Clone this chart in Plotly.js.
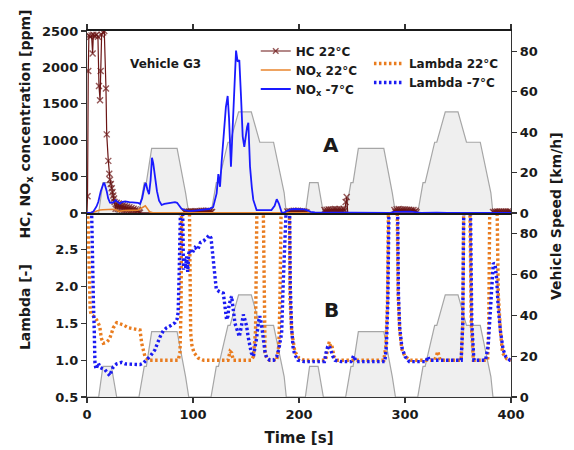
<!DOCTYPE html>
<html><head><meta charset="utf-8">
<script src="https://cdn.plot.ly/plotly-3.0.1.min.js"></script>
<style>html,body{margin:0;padding:0;background:#fff}#chart{width:574px;height:450px}</style>
</head><body><div id="chart"></div>
<script>
// ---- Vehicle speed profile (ECE-15 urban cycle x2), km/h ----
const speedTime = [0, 11, 15, 23, 28, 49, 54, 56, 61, 85, 93, 96, 117, 122, 124, 133, 135, 143, 155, 163, 176, 186, 188, 195, 206, 210, 218, 223, 244, 249, 251, 256, 280, 288, 291, 312, 317, 319, 328, 330, 338, 350, 358, 371, 381, 383, 390, 400];
const speedKmh  = [0, 0, 15, 15, 0, 0, 15, 15, 32, 32, 10, 0, 0, 15, 15, 35, 35, 50, 50, 35, 35, 10, 0, 0, 0, 15, 15, 0, 0, 15, 15, 32, 32, 10, 0, 0, 15, 15, 35, 35, 50, 50, 35, 35, 10, 0, 0, 0];

// ---- HC 22°C [ppm] ----
const hcTime = [0, 0.5, 1.2, 1.8, 3.0, 4.3, 5.3, 6.0, 7.5, 9.0, 10.3, 11.3, 12.3, 12.9, 13.8, 15.2, 16.3, 17.9, 18.6, 20.1, 21.0, 21.7, 22.5, 23.3, 24.0, 24.8, 25.5,
  26, 27, 28, 29, 30, 31, 32, 33, 34, 35, 36, 37, 38, 39, 40, 41, 42, 43, 44, 45, 46, 47, 48, 49, 50,
  60, 75, 91,
  92, 93, 94, 95, 96, 97, 98, 99, 100, 101, 102, 103, 104, 105, 106, 107, 108, 109, 110, 111, 112, 113, 114, 115, 116, 117, 118,
  119, 150, 188,
  189, 190, 191, 192, 193, 194, 195, 196, 197, 198, 199, 200, 201, 202, 203, 204, 205, 206, 207,
  208, 223,
  224, 225, 226, 227, 228, 229, 230, 231, 232, 233, 234, 235, 236, 237, 238, 239, 240, 241, 242, 243, 244, 245,
  246, 289,
  290, 291, 292, 293, 294, 295, 296, 297, 298, 299, 300, 301, 302, 303, 304, 305, 306, 307, 308, 309, 310, 311,
  312, 382,
  383, 384, 385, 386, 387, 388, 389, 390, 391, 392, 393, 394, 395, 396, 397, 398, 399, 400];
const hcPpm = [0, 230, 1950, 2440, 2420, 2440, 2190, 2450, 2430, 2450, 2420, 1745, 1550, 1950, 2450, 2480, 2500, 1710, 1080, 716, 538, 456, 400, 340, 290, 240, 200,
  150, 60, 140, 55, 130, 50, 120, 45, 110, 40, 100, 40, 90, 35, 80, 30, 70, 30, 60, 25, 50, 20, 40, 10, 5,
  0, 0, 0,
  15, 5, 20, 5, 20, 5, 25, 5, 20, 8, 25, 8, 25, 10, 25, 10, 30, 10, 30, 10, 30, 10, 30, 10, 25, 10, 15,
  0, 0, 0,
  20, 5, 25, 8, 25, 8, 30, 8, 30, 8, 30, 8, 25, 8, 25, 5, 20, 5, 10,
  0, 0,
  40, 15, 45, 15, 50, 15, 50, 20, 50, 20, 55, 20, 50, 20, 55, 20, 50, 20, 60, 30, 150, 220,
  0, 0,
  40, 15, 50, 20, 55, 20, 50, 20, 50, 20, 50, 20, 45, 15, 45, 15, 40, 15, 40, 15, 30, 10,
  0, 0,
  15, 5, 20, 5, 20, 5, 20, 5, 20, 5, 20, 5, 20, 5, 20, 5, 20, 10];

// ---- NOx 22°C [ppm] ----
const nox22Time = [0, 3, 6, 9, 12, 15, 20, 25, 28, 30, 32, 35, 40, 45, 48, 50, 53, 55, 57, 59, 62, 70, 90, 100, 150, 200, 250, 300, 350, 400];
const nox22Ppm  = [0, 0, 12, 28, 42, 45, 45, 52, 40, 22, 28, 35, 36, 34, 38, 55, 88, 98, 60, 18, 4, 2, 6, 3, 2, 2, 2, 2, 2, 2];

// ---- NOx -7°C [ppm] ----
const nox7Time = [0, 3, 6, 9, 10.7, 13, 15.4, 16.3, 18.6, 20, 21.7, 23, 25, 27, 29, 31, 33, 36, 40, 44, 48, 50, 52, 54.7, 55.6, 57, 58.5, 60, 61.3, 62.5, 64, 66, 68, 70.4, 73, 76, 80, 83, 85, 87, 89, 93, 97, 100, 105, 110, 115, 119, 121, 122.3, 123.9, 125.5, 127, 129.2, 131, 132.7, 134, 135.8, 137, 139, 140.6, 142.1, 143.7, 145.3, 146.9, 148.4, 149.7, 151, 152.2, 153.8, 155.5, 156.9, 160, 165, 170, 174, 177, 179, 181, 183.6, 186, 189, 192, 196, 200, 205, 208, 211, 215, 230, 250, 260, 285, 290, 295, 305, 311, 315, 330, 340, 400];
const nox7Ppm  = [0, 0, 20, 90, 155, 300, 398, 416, 300, 200, 142, 140, 150, 175, 150, 130, 150, 160, 150, 145, 140, 125, 200, 395, 410, 320, 260, 450, 760, 680, 500, 300, 170, 110, 125, 130, 140, 150, 140, 100, 60, 35, 25, 30, 40, 50, 55, 80, 200, 270, 535, 360, 700, 1185, 1450, 1607, 1300, 636, 1000, 1800, 2230, 2080, 2100, 1600, 1050, 910, 1095, 1180, 1240, 636, 350, 180, 40, 35, 40, 40, 100, 190, 130, 10, 5, 30, 50, 55, 55, 50, 35, 15, 10, 8, 5, 0, 0, 15, 20, 20, 10, 2, 5, 2, 0];

// ---- Lambda 22°C [-] ----
const lam22Time = [0, 1, 2, 3, 4, 6, 9, 12, 13.5, 15.4, 18, 21, 23, 24.8, 28, 31, 34.3, 39, 45, 50, 51.6, 54.7, 57.8, 70, 86, 87.7, 88.7, 89.3, 90, 96, 96.5, 97.2, 97.8, 99, 101, 105, 110, 133, 135, 136.5, 138, 155, 157, 159, 159.8, 160.3, 161, 165.5, 166.3, 167, 168, 170, 172, 179, 181, 182, 183, 184, 190.5, 191, 191.5, 193, 196, 200, 205, 225, 227, 228.5, 230, 231, 233, 236, 280, 282, 283.5, 284.5, 285, 292, 292.5, 293.5, 295, 297, 300, 305, 328, 330, 331, 332.5, 334, 353, 354.5, 355.3, 356, 360.5, 361.3, 362.5, 364.5, 378, 379, 379.7, 380.5, 386, 386.7, 388, 390, 392, 396, 400];
const lam22 = [3.5, 2.8, 2.0, 1.68, 1.62, 1.6, 1.55, 1.46, 1.3, 1.23, 1.24, 1.28, 1.36, 1.44, 1.51, 1.5, 1.48, 1.44, 1.42, 1.41, 1.23, 1.05, 1.0, 1.0, 1.0, 1.1, 1.69, 3.2, 4, 4, 3.2, 2.0, 1.37, 1.2, 1.1, 1.03, 1.0, 1.0, 1.12, 1.1, 1.0, 1.0, 1.05, 1.4, 2.2, 3.2, 4, 4, 3.0, 1.6, 1.1, 1.02, 1.0, 1.0, 1.2, 1.8, 2.8, 4, 4, 3.0, 1.85, 1.4, 1.12, 1.03, 1.0, 1.0, 1.15, 1.25, 1.18, 1.2, 1.05, 1.0, 1.0, 1.2, 1.8, 3.0, 4, 4, 3.0, 1.9, 1.4, 1.15, 1.05, 1.0, 1.0, 1.08, 1.12, 1.03, 1.0, 1.0, 1.5, 3.0, 4, 4, 3.0, 1.5, 1.0, 1.0, 1.5, 3.0, 4, 4, 3.0, 1.9, 1.4, 1.1, 1.02, 1.0];

// ---- Lambda -7°C [-] ----
const lam7Time = [0, 3.5, 4.4, 5, 6, 6.9, 7.5, 8.5, 10.7, 12.3, 15, 17, 19, 21.7, 23, 24.8, 28, 32.7, 36, 40.6, 45, 50, 53, 56.2, 60, 64, 66, 69, 72, 75, 79, 83, 85, 86, 87, 87.7, 88.2, 89.5, 90.3, 91, 92, 93, 94, 95, 96, 97, 99, 102, 104.5, 107, 110, 113, 115.5, 117, 118, 119, 120.5, 122, 125, 128.6, 130, 131.7, 133, 134, 136.4, 138, 139.6, 141, 142.5, 143.7, 145.5, 147.5, 149, 150.6, 152, 153.8, 155, 157, 158.5, 160, 161.5, 163, 164.5, 166, 168, 169.5, 172.6, 176, 179, 181, 183.6, 185, 186, 186.8, 190.5, 191.2, 191.8, 193, 194.6, 197, 199, 205, 224, 225.5, 227, 228.5, 230, 232, 234, 240, 249, 251.5, 254, 281, 282.5, 283.8, 284.8, 285.5, 292.5, 293, 293.8, 295, 297, 300, 304, 320, 321.5, 323, 353, 354.5, 355.5, 356, 361, 361.8, 363, 365, 376, 378.5, 380, 381.5, 383.3, 385, 386.5, 388, 390, 392.5, 395, 399, 400];
const lam7 = [4, 4, 3.0, 2.4, 1.82, 1.37, 0.96, 0.88, 0.96, 0.9, 0.88, 0.87, 0.83, 0.79, 0.85, 0.91, 0.95, 0.97, 0.95, 0.95, 0.95, 0.94, 0.96, 1.0, 1.06, 1.14, 1.22, 1.32, 1.4, 1.44, 1.47, 1.51, 1.56, 1.65, 2.2, 3.0, 4, 4, 3.0, 2.23, 2.4, 2.25, 2.41, 2.2, 2.45, 2.5, 2.45, 2.53, 2.5, 2.6, 2.62, 2.66, 2.7, 2.66, 2.5, 2.37, 2.15, 1.96, 1.93, 1.91, 1.75, 1.55, 1.6, 1.75, 1.87, 1.65, 1.5, 1.44, 1.38, 1.32, 1.45, 1.62, 1.55, 1.46, 1.32, 1.19, 1.1, 1.05, 1.15, 1.3, 1.5, 1.6, 1.5, 1.32, 1.1, 1.03, 1.0, 1.0, 1.05, 1.15, 1.37, 2.0, 3.0, 4, 4, 3.0, 2.0, 1.45, 1.14, 1.05, 1.0, 0.98, 0.98, 1.1, 1.18, 1.2, 1.12, 1.05, 1.0, 0.98, 0.98, 1.06, 0.98, 0.98, 1.2, 1.8, 3.0, 4, 4, 3.0, 1.9, 1.45, 1.18, 1.05, 0.98, 0.98, 1.05, 1.0, 1.0, 1.5, 3.0, 4, 4, 3.0, 1.5, 1.0, 1.0, 1.2, 1.6, 2.0, 2.32, 2.3, 2.1, 1.7, 1.4, 1.15, 1.05, 1.0, 1.0];

// ---- tick labels ----
const timeTicks = [0, 100, 200, 300, 400];
const ppmTicks = [0, 500, 1000, 1500, 2000, 2500];
const lambdaTicks = [0.5, 1.0, 1.5, 2.0, 2.5];
const speedTicks = [0, 20, 40, 60, 80];

const F = 'DejaVu Sans';
const ink = '#1a1a1a';
const tickFont = {family: F, size: 13, weight: 'bold', color: ink};
const C = {hc: '#6b1515', nox22: '#e8842c', nox7: '#1a1aff', lam22: '#e97c1f', lam7: '#1b1bf2', fill: '#efefef', sline: '#a6a6a6'};

const speedStyle = {type: 'scatter', mode: 'lines', fill: 'tozeroy', fillcolor: C.fill,
  line: {color: C.sline, width: 1.2}, showlegend: false, hoverinfo: 'skip'};

const traces = [
  Object.assign({x: speedTime, y: speedKmh, xaxis: 'x2', yaxis: 'y'}, speedStyle),
  Object.assign({x: speedTime, y: speedKmh, xaxis: 'x', yaxis: 'y3'}, speedStyle),
  {x: hcTime, y: hcPpm, xaxis: 'x2', yaxis: 'y2', type: 'scatter', mode: 'lines+markers', name: 'HC 22°C',
   line: {color: C.hc, width: 1.2},
   marker: {symbol: 'x-thin', size: hcPpm.map(v => v > 0 ? 6 : 0), color: C.hc, line: {color: C.hc, width: 1.4}},
   legend: 'legend'},
  {x: nox22Time, y: nox22Ppm, xaxis: 'x2', yaxis: 'y2', type: 'scatter', mode: 'lines', name: 'NO<sub>x</sub> 22°C',
   line: {color: C.nox22, width: 1.6}, legend: 'legend'},
  {x: nox7Time, y: nox7Ppm, xaxis: 'x2', yaxis: 'y2', type: 'scatter', mode: 'lines', name: 'NO<sub>x</sub> -7°C',
   line: {color: C.nox7, width: 1.8}, legend: 'legend'},
  {x: lam22Time, y: lam22, xaxis: 'x', yaxis: 'y4', type: 'scatter', mode: 'lines', name: 'Lambda 22°C',
   line: {color: C.lam22, width: 3.4, dash: '2.5px,2.5px'}, legend: 'legend2'},
  {x: lam7Time, y: lam7, xaxis: 'x', yaxis: 'y4', type: 'scatter', mode: 'lines', name: 'Lambda -7°C',
   line: {color: C.lam7, width: 3.4, dash: '2.5px,2.5px'}, legend: 'legend2'}
];

const axBase = {showgrid: false, zeroline: false, showline: true, linecolor: '#333', linewidth: 1.2,
  ticks: 'outside', ticklen: 5, tickwidth: 1.2, tickcolor: '#333', tickfont: tickFont};
const split = 0.5027;

const legFont = {family: F, size: 12, weight: 'bold', color: ink};
const annFont = (s) => ({family: F, size: s, weight: 'bold', color: ink});
const ann = (text, x, y, size, angle) => ({text: text, xref: 'paper', yref: 'paper', x: x, y: y,
  xanchor: 'center', yanchor: 'middle', showarrow: false, textangle: angle || 0, font: annFont(size)});

const layout = {
  width: 574, height: 450,
  margin: {l: 87, r: 63, t: 31, b: 53},
  paper_bgcolor: '#fff', plot_bgcolor: 'rgba(0,0,0,0)',
  hovermode: false,
  font: {family: F, size: 13, weight: 'bold', color: ink},
  xaxis: Object.assign({}, axBase, {domain: [0, 1], anchor: 'y3', range: [0, 400], tickvals: timeTicks,
    title: {text: 'Time [s]', font: annFont(15), standoff: 11}}),
  xaxis2: Object.assign({}, axBase, {domain: [0, 1], anchor: 'y', matches: 'x', range: [0, 400], side: 'top',
    tickvals: timeTicks, showticklabels: false, mirror: true, linecolor: '#1a1a1a', linewidth: 1.8}),
  yaxis: Object.assign({}, axBase, {domain: [split, 1], anchor: 'x2', side: 'right', range: [0, 90], tickvals: speedTicks}),
  yaxis2: Object.assign({}, axBase, {overlaying: 'y', anchor: 'x2', side: 'left', range: [0, 2500], tickvals: ppmTicks}),
  yaxis3: Object.assign({}, axBase, {domain: [0, split], anchor: 'x', side: 'right', range: [0, 90], tickvals: speedTicks}),
  yaxis4: Object.assign({}, axBase, {overlaying: 'y3', anchor: 'x', side: 'left', range: [0.5, 3.0], tickvals: lambdaTicks, tickformat: '.1f'}),
  legend: {x: 0.398, y: 0.985, xanchor: 'left', yanchor: 'top', bgcolor: 'rgba(0,0,0,0)', font: legFont,
    tracegroupgap: 0, itemwidth: 30, borderwidth: 0},
  legend2: {x: 0.665, y: 0.951, xanchor: 'left', yanchor: 'top', bgcolor: 'rgba(0,0,0,0)', font: legFont,
    tracegroupgap: 0, itemwidth: 30, borderwidth: 0},
  annotations: [
    ann('Vehicle G3', 0.184, 0.9098, 12),
    ann('A', 0.5755, 0.6885, 20),
    ann('B', 0.5755, 0.2377, 20),
    ann('HC, NO<sub>x</sub> concentration [ppm]', -0.146, 0.7445, 14, -90),
    ann('Lambda [-]', -0.146, 0.2459, 14, -90),
    ann('Vehicle Speed [km/h]', 1.106, 0.4945, 14, -90)
  ]
};

Plotly.newPlot('chart', traces, layout, {staticPlot: true, displayModeBar: false});
</script>
</body></html>
